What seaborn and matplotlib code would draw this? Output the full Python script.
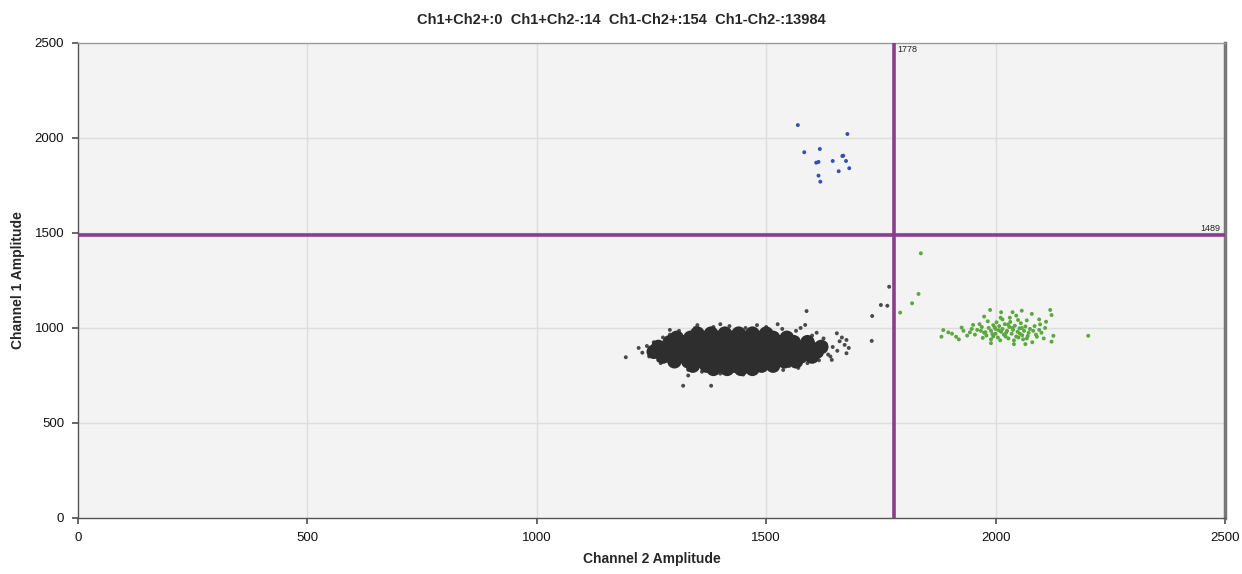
import matplotlib
matplotlib.use("Agg")
import matplotlib.pyplot as plt
import seaborn as sns
import pandas as pd

# ---- data ----
title_text = "Ch1+Ch2+:0  Ch1+Ch2-:14  Ch1-Ch2+:154  Ch1-Ch2-:13984"
x_threshold = 1778
y_threshold = 1489
x_ticks = [0, 500, 1000, 1500, 2000, 2500]
y_ticks = [0, 500, 1000, 1500, 2000, 2500]

# Ch1+Ch2- droplets (blue)
blue_x = [1569, 1677, 1583, 1617, 1609, 1614, 1645, 1666, 1668, 1674, 1681, 1658, 1614, 1618]
blue_y = [2068, 2021, 1925, 1942, 1870, 1874, 1879, 1905, 1907, 1879, 1841, 1825, 1802, 1770]

# Ch1-Ch2+ droplets (green)
green_x = [1988, 2012, 2037, 2057, 2079, 2011, 2031, 2049, 1886, 1897, 1882, 1914, 1926, 1944, 1951,
           2119, 2122, 2110, 2097, 2126, 2122, 2090, 2202,
           1960, 1970, 1975, 1980, 1985, 1990, 1995, 2000, 2000, 2005, 2008, 2012, 2015, 2018, 2020,
           2025, 2028, 2030, 2035, 2038, 2042, 2045, 2048, 2052, 2055, 2058, 2062, 2065, 2068, 2072,
           2075, 1965, 1972, 1990, 2010, 2040, 2060, 1955, 1948, 1938, 2082, 2085, 2088, 2095, 2100,
           2105, 2002, 2032, 2068, 1983, 1995, 2022, 2050, 2015, 2045, 1975, 1930, 1905, 1920, 2080,
           2065, 1990, 2040, 2095, 2108, 1818, 1792, 1832, 1837,
           1978, 1993, 2007, 2023, 2037, 2053, 2070, 1968, 1998, 2027, 2057]
green_y = [1095, 1083, 1083, 1091, 1074, 1054, 1054, 1042, 989, 977, 954, 954, 1002, 977, 1016,
           1095, 1068, 1033, 1019, 959, 928, 954, 959,
           990, 1005, 975, 960, 1000, 985, 1015, 970, 995, 950, 1010, 980, 995, 965, 1020,
           985, 945, 1005, 970, 990, 1012, 955, 980, 998, 1025, 962, 985, 1008, 945, 975,
           995, 1020, 948, 940, 935, 935, 940, 965, 995, 960, 985, 1010, 965, 990, 975,
           945, 1030, 1032, 1040, 1035, 955, 955, 950, 1045, 1065, 1060, 985, 970, 940, 925,
           915, 920, 915, 1045, 1000, 1130, 1081, 1179, 1393,
           978, 968, 988, 975, 1000, 970, 958, 985, 1003, 1018, 1000]

# Ch1-Ch2- droplets (grey) : dense body of the cluster
body_x = [1350, 1380, 1410, 1440, 1470, 1500,
          1305, 1335, 1365, 1395, 1425, 1455, 1485, 1515, 1545,
          1290, 1320, 1350, 1380, 1410, 1440, 1470, 1500, 1530, 1560, 1590,
          1265, 1295, 1325, 1355, 1385, 1415, 1445, 1475, 1505, 1535, 1565, 1595, 1620,
          1255, 1280, 1310, 1340, 1370, 1400, 1430, 1460, 1490, 1520, 1550, 1580, 1610,
          1275, 1305, 1335, 1365, 1395, 1425, 1455, 1485, 1515, 1545, 1575, 1600,
          1300, 1330, 1360, 1390, 1420, 1450, 1480, 1510, 1540, 1565,
          1340, 1370, 1400, 1430, 1460, 1490, 1515,
          1385, 1415, 1445, 1470]
body_y = [970, 970, 970, 970, 970, 970,
          948, 948, 948, 948, 948, 948, 948, 948, 948,
          925, 925, 925, 925, 925, 925, 925, 925, 925, 925, 925,
          900, 900, 900, 900, 900, 900, 900, 900, 900, 900, 900, 900, 900,
          875, 875, 875, 875, 875, 875, 875, 875, 875, 875, 875, 875, 875,
          850, 850, 850, 850, 850, 850, 850, 850, 850, 850, 850, 850,
          825, 825, 825, 825, 825, 825, 825, 825, 825, 825,
          802, 802, 802, 802, 802, 802, 802,
          785, 785, 785, 785]

# Ch1-Ch2- droplets (grey) : sparse edge and stray droplets
edge_x = [1194, 1319, 1380, 1585, 1588, 1675, 1671, 1675, 1643, 1654, 1537, 1230, 1240, 1245, 1255,
          1265, 1275, 1290, 1300, 1310, 1330, 1345, 1360, 1385, 1400, 1420, 1440, 1455, 1475, 1500,
          1515, 1535, 1550, 1565, 1590, 1600, 1615, 1625, 1635, 1645, 1655, 1660, 1640, 1610, 1575,
          1525, 1480, 1400, 1350, 1290, 1250, 1222, 1270, 1330, 1450, 1570, 1620, 1630, 1665, 1680,
          1768, 1750, 1764, 1731, 1730]
edge_y = [846, 696, 696, 1016, 1089, 937, 911, 867, 832, 972, 779, 870, 905, 850, 925,
          830, 950, 965, 800, 985, 780, 1000, 770, 1005, 760, 1010, 765, 1000, 770, 1005,
          785, 995, 800, 985, 815, 960, 830, 945, 860, 900, 880, 930, 850, 975, 1000,
          1020, 1015, 1020, 1015, 990, 880, 895, 815, 750, 755, 790, 860, 915, 950, 895,
          1217, 1121, 1117, 1063, 932]

# ---- figure ----
sns.set_theme(style="white")
plt.rcParams["font.family"] = ["Liberation Sans Narrow", "Liberation Sans", "DejaVu Sans"]

fig = plt.figure(figsize=(12.42, 5.74), dpi=100)
ax = fig.add_axes([0.0628, 0.0976, 0.9235, 0.8275])
ax.set_facecolor("#f3f3f3")

for v in x_ticks[1:-1]:
    ax.axvline(v, color="#dedede", lw=1.0, zorder=0)
for v in y_ticks[1:-1]:
    ax.axhline(v, color="#dedede", lw=1.0, zorder=0)

body = pd.DataFrame({"x": body_x, "y": body_y})
edge = pd.DataFrame({"x": edge_x, "y": edge_y})
green = pd.DataFrame({"x": green_x, "y": green_y})
blue = pd.DataFrame({"x": blue_x, "y": blue_y})

sns.scatterplot(data=edge, x="x", y="y", ax=ax, color="#4a4a4a", s=8, edgecolor="none", zorder=2)
sns.scatterplot(data=body, x="x", y="y", ax=ax, color="#2e2e2e", s=110, edgecolor="none", zorder=3)
sns.scatterplot(data=green, x="x", y="y", ax=ax, color="#5aa83e", s=8, edgecolor="none", zorder=3)
sns.scatterplot(data=blue, x="x", y="y", ax=ax, color="#3550b5", s=8, edgecolor="none", zorder=3)

ax.axvline(x_threshold, color="#8a3d8c", lw=2.6, zorder=4)
ax.axhline(y_threshold, color="#8a3d8c", lw=2.6, zorder=4)
ax.text(x_threshold + 8, 2490, str(x_threshold), fontsize=6.5, va="top", ha="left", color="#222222")
ax.text(2490, y_threshold + 12, str(y_threshold), fontsize=6.5, va="bottom", ha="right", color="#222222")

ax.set_xlim(0, 2500)
ax.set_ylim(0, 2500)
ax.set_xticks(x_ticks)
ax.set_yticks(y_ticks)
ax.tick_params(axis="both", labelsize=9.5, length=4, direction="out", color="#555555",
               labelcolor="#111111", bottom=True, left=True, pad=6)
for sp in ax.spines.values():
    sp.set_color("#999999")
    sp.set_linewidth(1.0)
ax.spines["right"].set_color("#777777")
ax.spines["right"].set_linewidth(2.5)
ax.spines["bottom"].set_color("#555555")
ax.spines["left"].set_color("#555555")

ax.set_xlabel("Channel 2 Amplitude", fontsize=10, fontweight="bold", labelpad=6)
ax.set_ylabel("Channel 1 Amplitude", fontsize=10, fontweight="bold", labelpad=7)
fig.text(0.5, 0.965, title_text, ha="center", va="center", fontsize=10.5, fontweight="bold")

fig.savefig("out.png", dpi=100, facecolor="white")
